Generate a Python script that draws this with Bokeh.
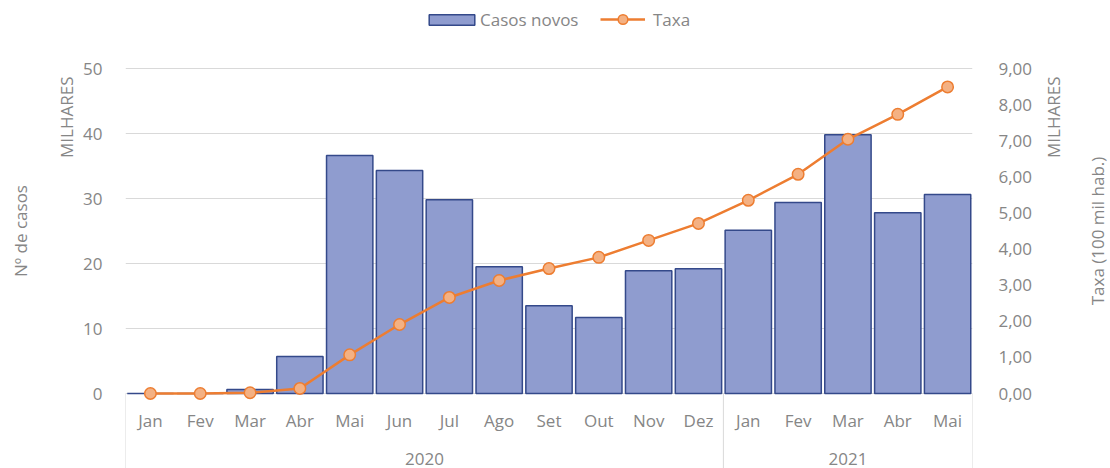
from math import pi
from bokeh.plotting import figure
from bokeh.layouts import row
from bokeh.models import (Range1d, LinearAxis, FixedTicker, Legend, LegendItem)
from bokeh.core.properties import value
from bokeh.embed import file_html
from bokeh.resources import INLINE

# ---- data (values in thousands) ----
months = ["Jan", "Fev", "Mar", "Abr", "Mai", "Jun", "Jul", "Ago", "Set", "Out", "Nov", "Dez",
          "Jan", "Fev", "Mar", "Abr", "Mai"]
years = ["2020", "2020", "2020", "2020", "2020", "2020", "2020", "2020", "2020", "2020", "2020", "2020",
         "2021", "2021", "2021", "2021", "2021"]
casos = [0.0, 0.0, 0.6, 5.7, 36.6, 34.3, 29.8, 19.5, 13.5, 11.7, 18.9, 19.2,
         25.1, 29.4, 39.8, 27.8, 30.6]
taxa = [0.0, 0.0, 0.02, 0.14, 1.07, 1.91, 2.66, 3.13, 3.46, 3.77, 4.24, 4.71,
        5.35, 6.07, 7.04, 7.73, 8.49]
left_ticks = [0, 10, 20, 30, 40, 50]
right_ticks = [0, 1, 2, 3, 4, 5, 6, 7, 8, 9]

FONT = "Open Sans"
GRAY = "#868686"
GRID = "#D9D9D9"
FS = "17px"

H = 468
WL, WR = 80, 75
WM = 1110 - WL - WR
zero_px = 393                         # zero line, px from top
px_per_unit = 325 / left_ticks[-1]    # 0..50 band is 325 px tall
y_top = zero_px / px_per_unit
y_bot = -(H - zero_px) / px_per_unit
scale_r = right_ticks[-1] / left_ticks[-1]

n = len(months)
xs = [i + 0.5 for i in range(n)]

p = figure(width=WM, height=H, output_backend="svg", toolbar_location=None,
           x_range=Range1d(0, n), y_range=Range1d(y_bot, y_top),
           x_axis_location=None,
           min_border_left=45, min_border_right=60, min_border_top=0, min_border_bottom=0)
p.extra_y_ranges = {"taxa": Range1d(y_bot * scale_r, y_top * scale_r)}
p.outline_line_color = None
p.background_fill_color = "white"
p.border_fill_color = "white"

for g in p.grid:
    if g.dimension == 0:
        g.visible = False
    else:
        g.ticker = FixedTicker(ticks=left_ticks)
        g.grid_line_color = GRID
        g.grid_line_width = 1

# bars
bars = p.vbar(x=xs, top=casos, width=0.93, bottom=0,
              fill_color="#8F9CCF", line_color="#34498A", line_width=1.5)
# line
ln = p.line(x=xs, y=taxa, y_range_name="taxa", line_color="#ED7D31", line_width=2.5)
pts = p.scatter(x=xs, y=taxa, y_range_name="taxa", size=11.5, marker="circle",
                fill_color="#F4B183", line_color="#ED7D31", line_width=1.5)


def style_ticks(ax):
    ax.axis_line_color = None
    ax.major_tick_line_color = None
    ax.minor_tick_line_color = None
    ax.major_label_text_font = FONT
    ax.major_label_text_font_size = FS
    ax.major_label_text_color = GRAY


ya = p.yaxis[0]
ya.ticker = FixedTicker(ticks=left_ticks)
style_ticks(ya)
ya.major_label_standoff = 17

ra = LinearAxis(y_range_name="taxa", ticker=FixedTicker(ticks=right_ticks),
                major_label_overrides={t: f"{t:.2f}".replace(".", ",") for t in right_ticks})
style_ticks(ra)
ra.major_label_standoff = 20
p.add_layout(ra, "right")

# category axis drawn inside the frame, below the zero line
bounds = [0] + [i for i in range(1, n) if years[i] != years[i - 1]] + [n]
group_x = [(a + b) / 2 for a, b in zip(bounds[:-1], bounds[1:])]
group_lbl = [years[a] for a in bounds[:-1]]

p.segment(x0=bounds, y0=[0] * len(bounds), x1=bounds, y1=[y_bot] * len(bounds),
          line_color=GRID, line_width=1)
month_y = -27 / px_per_unit
year_y = -65 / px_per_unit
p.text(x=xs, y=[month_y] * n, text=months, text_align="center", text_baseline="middle",
       text_font=value(FONT), text_font_size=FS, text_color=GRAY)
p.text(x=group_x, y=[year_y] * len(group_x), text=group_lbl, text_align="center",
       text_baseline="middle", text_font=value(FONT), text_font_size=FS, text_color=GRAY)

# legends
leg1 = Legend(items=[LegendItem(label="Casos novos", renderers=[bars])],
              location=(298, 437), orientation="horizontal")
leg2 = Legend(items=[LegendItem(label="Taxa", renderers=[ln, pts])],
              location=(475, 437), orientation="horizontal")
for lg, gw, gh, so in ((leg1, 57, 13, 0), (leg2, 45, 24, 8)):
    lg.border_line_color = None
    lg.background_fill_alpha = 0
    lg.label_text_font = FONT
    lg.label_text_font_size = FS
    lg.label_text_color = GRAY
    lg.glyph_width = gw
    lg.glyph_height = gh
    lg.label_standoff = so
    lg.padding = 0
    lg.margin = 0
    p.add_layout(lg)


def side_fig(width):
    f = figure(width=width, height=H, output_backend="svg", toolbar_location=None,
               x_range=Range1d(0, width), y_range=p.y_range,
               x_axis_type=None, y_axis_type=None,
               min_border_left=0, min_border_right=0, min_border_top=0, min_border_bottom=0)
    f.outline_line_color = None
    f.background_fill_color = "white"
    f.border_fill_color = "white"
    return f


mid = left_ticks[-1] / 2
milhares_y = 42.5
lf = side_fig(WL)
lf.text(x=[20, 66], y=[mid, milhares_y], text=["Nº de casos", "MILHARES"], angle=pi / 2,
        text_align="center", text_baseline="middle",
        text_font=value(FONT), text_font_size=FS, text_color=GRAY)
rf = side_fig(WR)
rf.text(x=[18, 62], y=[milhares_y, mid], text=["MILHARES", "Taxa (100 mil hab.)"], angle=pi / 2,
        text_align="center", text_baseline="middle",
        text_font=value(FONT), text_font_size=FS, text_color=GRAY)

layout = row(lf, p, rf)
open("out.html", "w").write(file_html(layout, INLINE))
